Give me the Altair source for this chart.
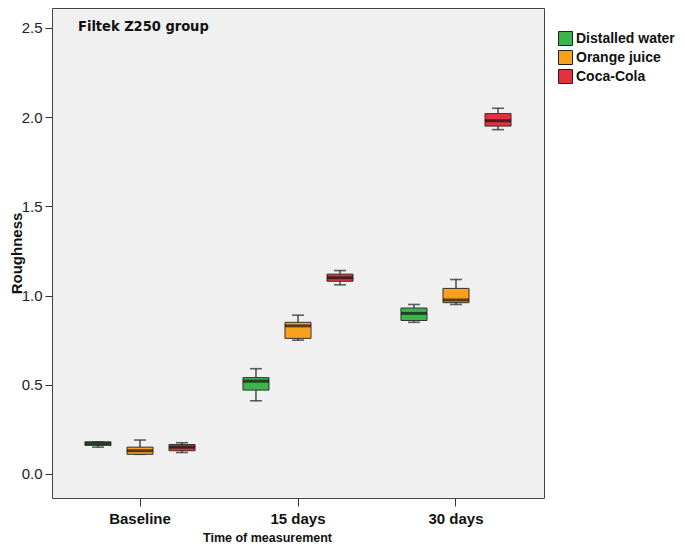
import altair as alt
import pandas as pd

times = ["Baseline", "15 days", "30 days"]
groups = ["Distalled water", "Orange juice", "Coca-Cola"]
colors = ["#3cb44b", "#f9a11b", "#e4313d"]

# per group: values for [Baseline, 15 days, 30 days]
mins = {
    "Distalled water": [0.15, 0.41, 0.85],
    "Orange juice": [0.11, 0.75, 0.95],
    "Coca-Cola": [0.12, 1.06, 1.93],
}
q1s = {
    "Distalled water": [0.16, 0.47, 0.86],
    "Orange juice": [0.11, 0.76, 0.96],
    "Coca-Cola": [0.13, 1.08, 1.95],
}
meds = {
    "Distalled water": [0.17, 0.52, 0.90],
    "Orange juice": [0.13, 0.83, 0.975],
    "Coca-Cola": [0.15, 1.10, 1.98],
}
q3s = {
    "Distalled water": [0.18, 0.54, 0.93],
    "Orange juice": [0.15, 0.85, 1.04],
    "Coca-Cola": [0.165, 1.12, 2.02],
}
maxs = {
    "Distalled water": [0.18, 0.59, 0.95],
    "Orange juice": [0.19, 0.89, 1.09],
    "Coca-Cola": [0.175, 1.14, 2.05],
}

rows = []
for g in groups:
    for i, t in enumerate(times):
        rows.append(dict(time=t, group=g, lo=mins[g][i], q1=q1s[g][i],
                         med=meds[g][i], q3=q3s[g][i], hi=maxs[g][i]))
df = pd.DataFrame(rows)

W, H = 492, 490
x = alt.X("time:N", sort=times, scale=alt.Scale(paddingInner=0, paddingOuter=0.057),
          axis=alt.Axis(title="Time of measurement", labelAngle=0, tickSize=8,
                        labelPadding=5, labelFontSize=15, labelFontWeight="bold",
                        titleFontSize=12.5, titleFontWeight="bold",
                        titleX=215, titleY=43, titleBaseline="alphabetic",
                        domain=False, tickColor="#333", labelColor="#111",
                        titleColor="#111"))
xo = alt.XOffset("group:N", sort=groups,
                 scale=alt.Scale(paddingInner=0.38, paddingOuter=0.57))
yscale = alt.Scale(domain=[-0.135, 2.612], nice=False, zero=False)
yaxis = alt.Axis(title="Roughness", values=[0, 0.5, 1.0, 1.5, 2.0, 2.5], format=".1f",
                 tickSize=7, labelPadding=3, labelFontSize=15, grid=False,
                 domain=False, tickColor="#333", labelColor="#222",
                 titleFontSize=15, titleFontWeight="bold", titleX=-28,
                 titleColor="#111")

base = alt.Chart(df)

whisk = base.mark_rule(color="#222", strokeWidth=1.2).encode(
    x=x, xOffset=xo, y=alt.Y("lo:Q", scale=yscale, axis=yaxis), y2="hi:Q")
cap_lo = base.mark_tick(color="#222", size=12, thickness=1.6).encode(
    x=x, xOffset=xo, y=alt.Y("lo:Q", scale=yscale))
cap_hi = base.mark_tick(color="#222", size=12, thickness=1.6).encode(
    x=x, xOffset=xo, y=alt.Y("hi:Q", scale=yscale))
box = base.mark_bar(stroke="#333", strokeWidth=1).encode(
    x=x, xOffset=xo, y=alt.Y("q1:Q", scale=yscale), y2="q3:Q",
    color=alt.Color("group:N", sort=groups,
                    scale=alt.Scale(domain=groups, range=colors),
                    legend=alt.Legend(title=None, orient="none", legendX=506, legendY=23,
                                      symbolType="square", symbolSize=196,
                                      symbolStrokeColor="#222", symbolStrokeWidth=1,
                                      symbolOpacity=1, labelFontSize=14,
                                      labelFontWeight="bold",
                                      labelColor="#111", labelOffset=3,
                                      rowPadding=0, padding=0)))
med = base.mark_tick(color="#111", size=26, thickness=3).encode(
    x=x, xOffset=xo, y=alt.Y("med:Q", scale=yscale))

title = alt.Chart(pd.DataFrame({"t": ["Filtek Z250 group"]})).mark_text(
    font="DejaVu Sans Condensed", fontWeight="bold", fontSize=14.5, align="left",
    baseline="alphabetic", color="#111").encode(
    text="t:N", x=alt.value(26), y=alt.value(23))

chart = alt.layer(whisk, cap_lo, cap_hi, box, med, title).properties(
    width=W, height=H,
    autosize=alt.AutoSizeParams(type="none"),
    padding={"left": 44, "top": 0, "right": 132, "bottom": 45},
    background="white",
).configure(font="Liberation Sans").configure_view(
    fill="#f0f0f0", stroke="#444", strokeWidth=1)

chart.save("out.html", embed_options={"renderer": "svg", "actions": False})
